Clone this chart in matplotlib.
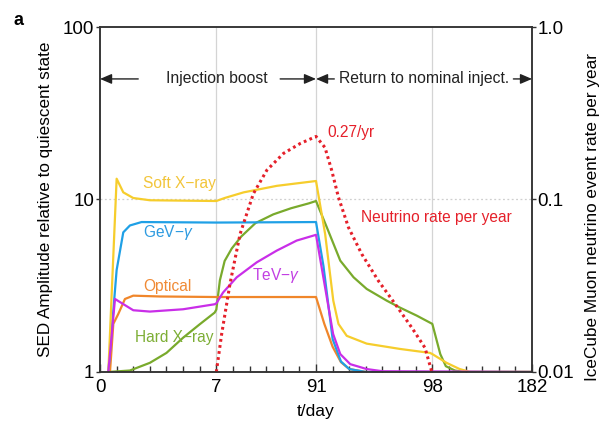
import numpy as np
import matplotlib
matplotlib.use("Agg")
import matplotlib.pyplot as plt

plt.rcParams['font.family'] = ['Liberation Sans', 'DejaVu Sans']
plt.rcParams['mathtext.fontset'] = 'custom'
plt.rcParams['mathtext.rm'] = 'Liberation Sans'
plt.rcParams['mathtext.it'] = 'Liberation Sans:italic'

# x axis is piecewise: days 0-7 and 91-98 one day per step, 7-91 and 98-182 two weeks per step
day_breaks = [0, 7, 91, 98, 182]
pos_breaks = [0, 7, 13, 20, 26]

def fwd(x):
    return np.interp(x, day_breaks, pos_breaks)

def inv(x):
    return np.interp(x, pos_breaks, day_breaks)

# curves (days, amplitude relative to quiescent state)
soft_x_day = [0.5, 1.0, 1.4, 2.0, 3.0, 7, 14, 30, 58, 91, 91.55, 92.04, 92.35, 92.85, 94.05, 96.06, 97.86, 98, 110, 121, 130, 182]
soft_x_val = [1, 13.2, 11.0, 10.2, 9.9, 9.8, 10.2, 11.0, 12.0, 12.8, 6.3, 2.59, 1.90, 1.62, 1.46, 1.36, 1.29, 1.27, 1.13, 1.04, 1.0, 1.0]

gev_day = [0.5, 1.0, 1.4, 1.8, 2.5, 7, 91, 91.45, 92.0, 92.5, 93.0, 94.0, 182]
gev_val = [1, 3.9, 6.45, 7.07, 7.4, 7.35, 7.4, 4.1, 1.55, 1.15, 1.04, 1.0, 1.0]

optical_day = [0.6, 0.8, 1.1, 1.5, 2.0, 3.6, 7, 91, 91.5, 92.0, 92.5, 93.0, 94.0, 182]
optical_val = [1, 1.9, 2.17, 2.65, 2.77, 2.74, 2.72, 2.72, 1.9, 1.4, 1.14, 1.04, 1.0, 1.0]

tev_day = [0.5, 0.9, 2.0, 3.0, 5.0, 6.9, 7, 12.7, 24.2, 41, 57.8, 74.7, 91, 91.45, 92.03, 92.46, 93.06, 94.05, 95, 182]
tev_val = [1, 2.65, 2.28, 2.24, 2.31, 2.47, 2.5, 2.89, 3.54, 4.32, 5.05, 5.78, 6.24, 3.5, 1.66, 1.27, 1.11, 1.04, 1.01, 1.0]

hard_x_day = [0.5, 1.8, 3.0, 4.0, 5.0, 6.0, 6.9, 7, 10, 14, 20, 28, 40, 55, 70, 85, 91, 91.65, 92.46, 93.26, 94.05, 95.26, 96.06, 97.07, 98, 104.7, 109.4, 117, 125, 182]
hard_x_val = [1, 1.02, 1.13, 1.29, 1.58, 1.89, 2.21, 2.3, 3.4, 4.4, 5.2, 6.1, 7.3, 8.2, 8.9, 9.5, 9.8, 6.9, 4.42, 3.54, 3.03, 2.59, 2.36, 2.12, 1.9, 1.27, 1.08, 1.02, 1.0, 1.0]

# neutrino event rate per year (right axis)
nu_day = [7, 11.5, 18.5, 27.0, 38.2, 49.6, 63.6, 77.6, 91, 91.54, 91.94, 92.35, 92.95, 93.75, 94.75, 95.76, 96.76, 97.56, 97.97]
nu_rate = [0.01, 0.0166, 0.0324, 0.063, 0.108, 0.148, 0.185, 0.211, 0.232, 0.2, 0.148, 0.103, 0.069, 0.0483, 0.0338, 0.0248, 0.0181, 0.0138, 0.01]

x_ticks = [0, 7, 91, 98, 182]
grid_days = [7, 91, 98]

c_soft = '#F6CD2C'
c_gev = '#1FA0E6'
c_opt = '#F0862A'
c_tev = '#C92EE8'
c_hard = '#79AA2C'
c_nu = '#E5202A'
c_ax = '#333333'

fig = plt.figure(figsize=(6, 4.26), dpi=100)
ax = fig.add_axes([0.1667, 0.1268, 0.72, 0.8098])
ax.set_xscale('function', functions=(fwd, inv))
ax.set_yscale('log')
ax.set_xlim(0, 182)
ax.set_ylim(1, 100)

for d in grid_days:
    ax.axvline(d, color='#d4d4d4', lw=0.9, zorder=0)
ax.axhline(10, color='#cfcfcf', lw=0.9, ls=(0, (1.5, 2)), zorder=0)

lw = 1.6
ax.plot(hard_x_day, hard_x_val, color=c_hard, lw=lw)
ax.plot(optical_day, optical_val, color=c_opt, lw=lw)
ax.plot(gev_day, gev_val, color=c_gev, lw=lw)
ax.plot(soft_x_day, soft_x_val, color=c_soft, lw=lw)
ax.plot(tev_day, tev_val, color=c_tev, lw=lw)

ax.set_xticks(x_ticks)
ax.set_xticklabels([str(t) for t in x_ticks])
ax.set_xticks(inv(np.arange(1, 26)), minor=True)
ax.set_yticks([1, 10, 100])
ax.set_yticklabels(['1', '10', '100'])
ax.yaxis.set_minor_locator(matplotlib.ticker.NullLocator())
ax.tick_params(axis='x', which='major', direction='in', length=6, width=1, color=c_ax,
               labelsize=13.5, pad=5, top=False)
ax.tick_params(axis='x', which='minor', direction='in', length=4, width=1, color=c_ax, top=False)
ax.tick_params(axis='y', which='major', direction='out', length=3, width=1, color=c_ax,
               labelsize=13.5, pad=1)
for s in ax.spines.values():
    s.set_color(c_ax)
    s.set_linewidth(1.1)

ax.set_xlabel('t/day', fontsize=12.5, labelpad=6)
ax.set_ylabel('SED Amplitude relative to quiescent state', fontsize=12.3)
ax.yaxis.set_label_coords(-0.108, 0.5)

ax2 = ax.twinx()
ax2.set_yscale('log')
ax2.set_ylim(0.01, 1.0)
ax2.plot(nu_day, nu_rate, color=c_nu, lw=2.2, ls=(0, (0.9, 1.1)))
ax2.set_yticks([0.01, 0.1, 1.0])
ax2.set_yticklabels(['0.01', '0.1', '1.0'])
ax2.yaxis.set_minor_locator(matplotlib.ticker.NullLocator())
ax2.tick_params(axis='y', which='major', direction='out', length=3, width=1, color=c_ax,
                labelsize=13.5, pad=1)
for s in ax2.spines.values():
    s.set_color(c_ax)
    s.set_linewidth(1.1)
ax2.set_ylabel('IceCube Muon neutrino event rate per year', fontsize=12.3)
ax2.yaxis.set_label_coords(1.122, 0.45)

# curve labels
fs = 11.2
ax.text(2.6, 12.4, 'Soft X−ray', color='#F2C53A', fontsize=fs, va='center')
ax.text(2.6, 6.43, r'GeV−$\gamma$', color='#2E9BE0', fontsize=fs, va='center')
ax.text(2.6, 3.12, 'Optical', color='#F08A35', fontsize=fs, va='center')
ax.text(2.1, 1.58, 'Hard X−ray', color='#7DAE35', fontsize=fs, va='center')
ax.text(37, 3.61, r'TeV−$\gamma$', color='#C23FE3', fontsize=fs, va='center')
ax2.text(91.7, 0.245, '0.27/yr', color=c_nu, fontsize=fs, va='center')
ax2.text(93.7, 0.0785, 'Neutrino rate per year', color=c_nu, fontsize=fs, va='center')

# phase arrows
arrow_y = 50
aprops = dict(arrowstyle='-|>,head_length=0.7,head_width=0.3', lw=1, color='#222222',
              shrinkA=0, shrinkB=0, mutation_scale=10)
ax.annotate('', xy=(0, arrow_y), xytext=(2.3, arrow_y), arrowprops=aprops)
ax.annotate('', xy=(91, arrow_y), xytext=(60.8, arrow_y), arrowprops=aprops)
ax.annotate('', xy=(91, arrow_y), xytext=(92.1, arrow_y), arrowprops=aprops)
ax.annotate('', xy=(182, arrow_y), xytext=(166.3, arrow_y), arrowprops=aprops)
ax.text(7, arrow_y, 'Injection boost', fontsize=11.3, ha='center', va='center', color='#222222')
ax.text(97.5, arrow_y, 'Return to nominal inject.', fontsize=11.3, ha='center', va='center',
        color='#222222')

fig.text(0.022, 0.952, 'a', fontsize=13, fontweight='bold', va='center')

fig.savefig('out.png', dpi=100)
